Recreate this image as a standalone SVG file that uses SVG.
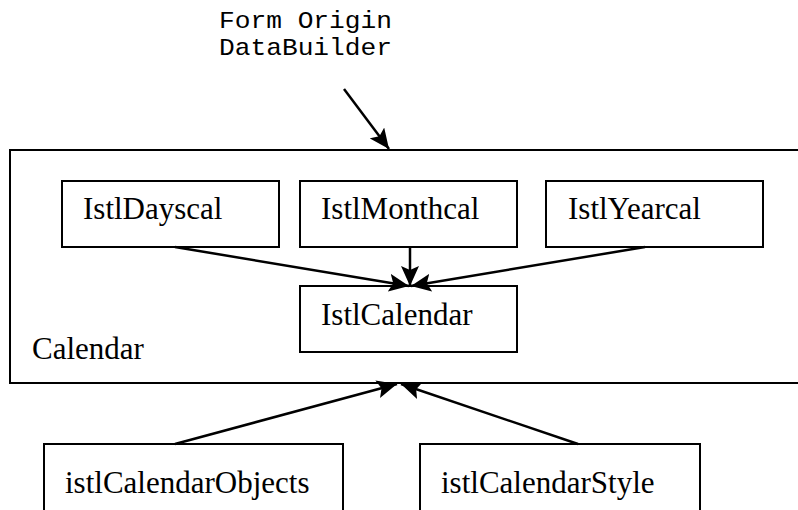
<svg xmlns="http://www.w3.org/2000/svg" width="798" height="510" viewBox="0 0 798 510">
  <style>
    .box { fill: #ffffff; stroke: #000000; stroke-width: 2; }
    .lbl { font-family: "Liberation Serif", "Times New Roman", serif; font-size: 31px; fill: #000000; }
    .mono { font-family: "Liberation Mono", "Courier New", monospace; font-size: 24px; fill: #000000; }
    .edge { fill: none; stroke: #000000; stroke-width: 2.5; marker-end: url(#head); }
  </style>
  <defs>
    <marker id="head" markerUnits="userSpaceOnUse" markerWidth="22" markerHeight="18" refX="20" refY="9" orient="auto">
      <path d="M0,0 L20,9 L0,18 L4,9 Z" fill="#000000"/>
    </marker>
  </defs>
  <rect width="798" height="510" fill="#ffffff"/>

  <!-- outer container, open on the right -->
  <g id="calendar">
    <path d="M800,150 H10 V383 H800" fill="none" stroke="#000000" stroke-width="2"/>
    <text class="lbl" x="32" y="359">Calendar</text>
  </g>

  <g id="istlDayscal">
    <rect class="box" x="62" y="181" width="217" height="66"/>
    <text class="lbl" x="83" y="219">IstlDayscal</text>
  </g>
  <g id="istlMonthcal">
    <rect class="box" x="300" y="181" width="217" height="66"/>
    <text class="lbl" x="321" y="219">IstlMonthcal</text>
  </g>
  <g id="istlYearcal">
    <rect class="box" x="546" y="181" width="217" height="66"/>
    <text class="lbl" x="568" y="219">IstlYearcal</text>
  </g>
  <g id="istlCalendar">
    <rect class="box" x="300" y="286" width="217" height="66"/>
    <text class="lbl" x="321" y="325">IstlCalendar</text>
  </g>

  <g id="istlCalendarObjects">
    <rect class="box" x="44" y="444" width="299" height="70"/>
    <text class="lbl" x="65" y="493">istlCalendarObjects</text>
  </g>
  <g id="istlCalendarStyle">
    <rect class="box" x="420" y="444" width="280" height="70"/>
    <text class="lbl" x="441" y="493">istlCalendarStyle</text>
  </g>

  <g id="formOrigin">
    <text class="mono" x="219" y="28" textLength="173" lengthAdjust="spacingAndGlyphs">Form Origin</text>
    <text class="mono" x="219" y="55" textLength="173" lengthAdjust="spacingAndGlyphs">DataBuilder</text>
  </g>

  <g id="connectors">
    <line class="edge" x1="344" y1="89" x2="389" y2="149"/>
    <line class="edge" x1="175" y1="247" x2="409" y2="286"/>
    <line class="edge" x1="410" y1="247" x2="410" y2="286"/>
    <line class="edge" x1="645" y1="247" x2="411" y2="286"/>
    <line class="edge" x1="175" y1="444" x2="397" y2="384"/>
    <line class="edge" x1="578" y1="444" x2="401" y2="384"/>
  </g>
</svg>
